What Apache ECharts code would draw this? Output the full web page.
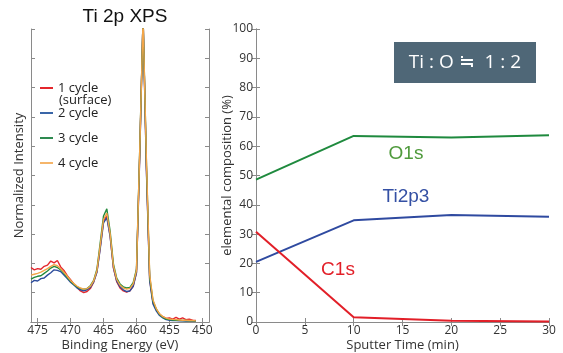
<!DOCTYPE html>
<html>
<head>
<meta charset="utf-8">
<script src="https://cdn.jsdelivr.net/npm/echarts@6/dist/echarts.min.js"></script>
<style>
  html, body { margin: 0; padding: 0; background: #fff; }
  #chart { width: 563px; height: 353px; }
</style>
</head>
<body>
<div id="chart"></div>
<script>
// binding energy (eV), shared by all four XPS spectra
var energy = [476, 475.5, 475, 474.5, 474, 473.5, 473, 472.5, 472, 471.5, 471, 470.5, 470, 469.5, 469, 468.5, 468, 467.5, 467, 466.5,
  466, 465.5, 465, 464.5, 464, 463.5, 463, 462.5, 462, 461.5, 461, 460.5, 460, 459.5, 459, 458.5, 458, 457.5, 457, 456.5,
  456, 455.5, 455, 454.5, 454, 453.5, 453, 452.5, 452, 451.5, 451];

var cycle1 = [1.86, 1.78, 1.82, 1.80, 1.90, 1.94, 2.08, 2.02, 2.10, 1.88, 1.76, 1.58, 1.44, 1.30, 1.18, 1.06, 1.00, 1.04, 1.14, 1.36,
  1.72, 2.55, 3.45, 3.62, 2.95, 1.85, 1.38, 1.16, 1.06, 1.02, 1.06, 1.22, 1.70, 5.80, 10.4, 5.30, 1.45, 0.66, 0.42, 0.26,
  0.18, 0.12, 0.14, 0.10, 0.16, 0.10, 0.14, 0.08, 0.10, 0.06, 0.05];
var cycle2 = [1.34, 1.42, 1.40, 1.48, 1.50, 1.60, 1.68, 1.78, 1.76, 1.72, 1.60, 1.48, 1.36, 1.26, 1.16, 1.10, 1.06, 1.10, 1.18, 1.36,
  1.70, 2.50, 3.38, 3.56, 2.92, 1.86, 1.40, 1.20, 1.10, 1.04, 1.06, 1.22, 1.68, 5.70, 10.4, 5.20, 1.40, 0.62, 0.38, 0.22,
  0.14, 0.08, 0.06, 0.05, 0.05, 0.04, 0.04, 0.03, 0.03, 0.03, 0.02];
var cycle3 = [1.46, 1.52, 1.56, 1.58, 1.66, 1.74, 1.84, 1.90, 1.86, 1.78, 1.66, 1.52, 1.40, 1.28, 1.20, 1.14, 1.12, 1.14, 1.24, 1.42,
  1.80, 2.70, 3.62, 3.86, 3.10, 1.98, 1.50, 1.30, 1.20, 1.16, 1.18, 1.34, 1.80, 5.95, 10.4, 5.50, 1.55, 0.72, 0.44, 0.26,
  0.16, 0.10, 0.08, 0.07, 0.06, 0.06, 0.05, 0.05, 0.04, 0.04, 0.03];
var cycle4 = [1.60, 1.63, 1.66, 1.70, 1.76, 1.82, 1.90, 1.96, 1.92, 1.82, 1.70, 1.56, 1.42, 1.31, 1.22, 1.16, 1.12, 1.14, 1.22, 1.40,
  1.76, 2.62, 3.50, 3.72, 3.02, 1.92, 1.46, 1.26, 1.16, 1.12, 1.15, 1.30, 1.76, 5.90, 10.4, 5.60, 1.62, 0.76, 0.46, 0.28,
  0.18, 0.13, 0.10, 0.09, 0.08, 0.07, 0.06, 0.06, 0.05, 0.05, 0.04];
var energyTicks = [450, 455, 460, 465, 470, 475];

// depth profile
var sputterTime = [0, 10, 20, 30];
var o1s = [48.6, 63.5, 63.0, 63.7];
var ti2p3 = [20.5, 34.7, 36.5, 35.9];
var c1s = [30.8, 1.6, 0.4, 0.2];

var axisFont = 'Open Sans';
var boxColor = '#8a8a8a';

function pairs(xs, ys) {
  return xs.map(function (x, i) { return [x, ys[i]]; });
}

function boxAxis(extra) {
  var base = {
    axisLine: { show: true, lineStyle: { color: boxColor, width: 1 } },
    axisTick: { show: true, inside: true, length: 4, lineStyle: { color: boxColor } },
    splitLine: { show: false },
    axisLabel: { show: false },
    nameMoveOverlap: false
  };
  return Object.assign(base, extra);
}

var chart = echarts.init(document.getElementById('chart'));

chart.setOption({
  backgroundColor: '#fff',
  animation: false,
  title: {
    text: 'Ti 2p XPS',
    left: 120, top: 2, textAlign: 'center',
    textStyle: { fontFamily: 'Liberation Sans', fontSize: 19, fontWeight: 'normal', color: '#111' }
  },
  legend: {
    data: ['1 cycle', '2 cycle', '3 cycle', '4 cycle'],
    orient: 'vertical',
    left: 40, top: 81, padding: 0,
    icon: 'rect',
    itemWidth: 13, itemHeight: 2, itemGap: 11,
    textStyle: { fontFamily: axisFont, fontSize: 13, color: '#222', lineHeight: 14 }
  },
  grid: [
    { left: 31, right: 354, top: 29, bottom: 31, outerBoundsMode: 'none' },
    { left: 256, right: 14, top: 29, bottom: 31, outerBoundsMode: 'none' }
  ],
  xAxis: [
    boxAxis({
      type: 'value', gridIndex: 0, min: 449, max: 476, inverse: true,
      axisTick: { show: true, inside: true, length: 4, customValues: energyTicks, lineStyle: { color: boxColor } },
      axisLabel: { show: true, customValues: energyTicks, margin: 3, fontFamily: axisFont, fontSize: 12, color: '#333' },
      name: 'Binding Energy (eV)', nameLocation: 'middle', nameGap: 17,
      nameTextStyle: { fontFamily: axisFont, fontSize: 13, color: '#333' }
    }),
    boxAxis({
      type: 'value', gridIndex: 0, position: 'top', min: 449, max: 476, inverse: true,
      axisTick: { show: true, inside: true, length: 4, customValues: energyTicks, lineStyle: { color: boxColor } }
    }),
    boxAxis({
      type: 'value', gridIndex: 1, min: 0, max: 30, interval: 5,
      axisLabel: { show: true, margin: 3, fontFamily: axisFont, fontSize: 12, color: '#333' },
      name: 'Sputter Time (min)', nameLocation: 'middle', nameGap: 17,
      nameTextStyle: { fontFamily: axisFont, fontSize: 13, color: '#333' }
    }),
    boxAxis({ type: 'value', gridIndex: 1, position: 'top', min: 0, max: 30, interval: 5 })
  ],
  yAxis: [
    boxAxis({
      type: 'value', gridIndex: 0, min: 0, max: 10, interval: 1,
      name: 'Normalized Intensity', nameLocation: 'middle', nameGap: 5,
      nameTextStyle: { fontFamily: axisFont, fontSize: 13, color: '#333' }
    }),
    boxAxis({ type: 'value', gridIndex: 0, position: 'right', min: 0, max: 10, interval: 1 }),
    boxAxis({
      type: 'value', gridIndex: 1, min: 0, max: 100, interval: 10,
      axisLabel: { show: true, margin: 3, fontFamily: axisFont, fontSize: 12, color: '#333' },
      name: 'elemental composition (%)', nameLocation: 'middle', nameGap: 22,
      nameTextStyle: { fontFamily: axisFont, fontSize: 13, color: '#333' }
    }),
    boxAxis({ type: 'value', gridIndex: 1, position: 'right', min: 0, max: 100, interval: 10 })
  ],
  series: [
    { name: '1 cycle', type: 'line', xAxisIndex: 0, yAxisIndex: 0, symbol: 'none', data: pairs(energy, cycle1),
      lineStyle: { width: 1.4, color: '#e4262c' }, itemStyle: { color: '#e4262c' } },
    { name: '2 cycle', type: 'line', xAxisIndex: 0, yAxisIndex: 0, symbol: 'none', data: pairs(energy, cycle2),
      lineStyle: { width: 1.4, color: '#2c4c9c' }, itemStyle: { color: '#3a66a8' } },
    { name: '3 cycle', type: 'line', xAxisIndex: 0, yAxisIndex: 0, symbol: 'none', data: pairs(energy, cycle3),
      lineStyle: { width: 1.4, color: '#248a3c' }, itemStyle: { color: '#2e8a50' } },
    { name: '4 cycle', type: 'line', xAxisIndex: 0, yAxisIndex: 0, symbol: 'none', data: pairs(energy, cycle4),
      lineStyle: { width: 1.4, color: '#f2a548' }, itemStyle: { color: '#f5b56a' } },
    { name: 'O1s', type: 'line', xAxisIndex: 2, yAxisIndex: 2, symbol: 'none', data: pairs(sputterTime, o1s),
      lineStyle: { width: 2, color: '#1f8a3e' } },
    { name: 'Ti2p3', type: 'line', xAxisIndex: 2, yAxisIndex: 2, symbol: 'none', data: pairs(sputterTime, ti2p3),
      lineStyle: { width: 2, color: '#2f4aa0' } },
    { name: 'C1s', type: 'line', xAxisIndex: 2, yAxisIndex: 2, symbol: 'none', data: pairs(sputterTime, c1s),
      lineStyle: { width: 2, color: '#e21f28' } }
  ],
  graphic: [
    { type: 'text', left: 59, top: 94,
      style: { text: '(surface)', font: '13px "Open Sans"', fill: '#222' } },
    { type: 'rect', shape: { x: 394, y: 42, width: 142, height: 41 }, style: { fill: '#4f6777' } },
    { type: 'text', x: 465, y: 63,
      style: { text: 'Ti : O \u2252  1 : 2', font: '19px "Open Sans"', fill: '#ffffff', align: 'center', verticalAlign: 'middle' } },
    { type: 'text', x: 406, y: 154,
      style: { text: 'O1s', font: '19px "Liberation Sans"', fill: '#4f9a3c', align: 'center', verticalAlign: 'middle' } },
    { type: 'text', x: 406, y: 197,
      style: { text: 'Ti2p3', font: '19px "Liberation Sans"', fill: '#3450a4', align: 'center', verticalAlign: 'middle' } },
    { type: 'text', x: 338, y: 270,
      style: { text: 'C1s', font: '19px "Liberation Sans"', fill: '#e21f28', align: 'center', verticalAlign: 'middle' } }
  ]
});
</script>
</body>
</html>
